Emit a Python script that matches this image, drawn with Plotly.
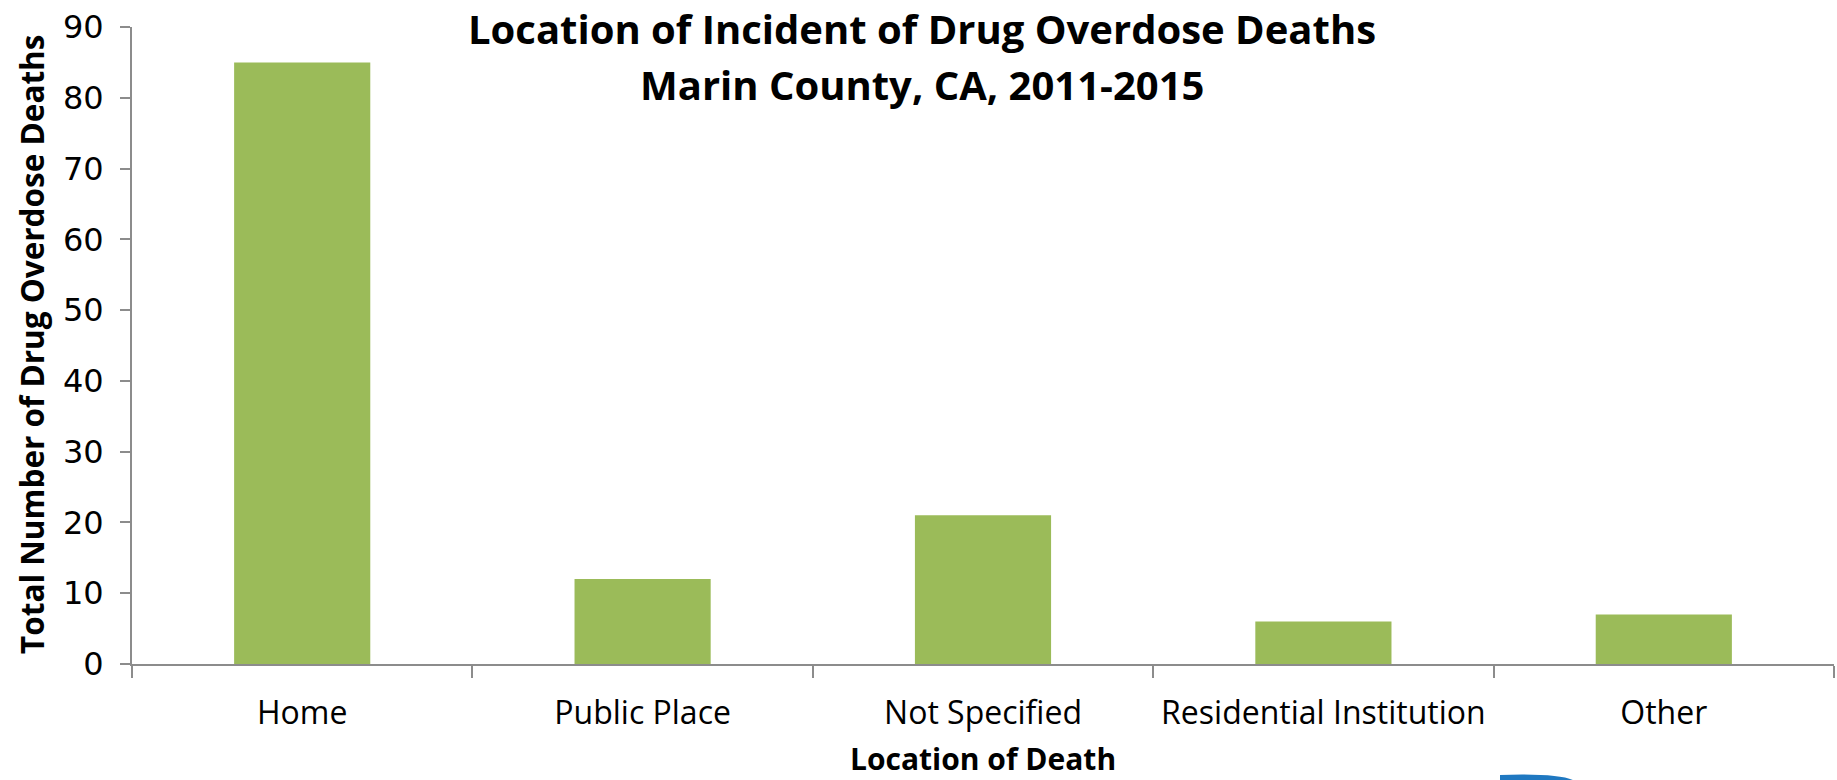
import plotly.graph_objects as go

categories = ["Home", "Public Place", "Not Specified", "Residential Institution", "Other"]
deaths = [85, 12, 21, 6, 7]
y_ticks = [0, 10, 20, 30, 40, 50, 60, 70, 80, 90]

title_lines = ["Location of Incident of Drug Overdose Deaths", "Marin County, CA, 2011-2015"]
x_title = "Location of Death"
y_title = "Total Number of Drug Overdose Deaths"

W, H = 1837, 780
ML, MR, MT, MB = 132, 3, 27, 116
pw = W - ML - MR
ph = H - MT - MB


def px_x(x):
    return (x - ML) / pw


def px_y(y):
    return (H - MB - y) / ph


bold_font = "Open Sans, sans-serif"
text_font = "Open Sans, sans-serif"
num_font = "DejaVu Sans, sans-serif"
axis_color = "#8C8C8C"

fig = go.Figure(
    go.Bar(
        x=categories,
        y=deaths,
        marker=dict(color="#9BBB59", line=dict(width=0)),
        width=0.4,
        hoverinfo="x+y",
    )
)

annotations = [
    dict(
        text="<b>" + title_lines[0] + "</b>",
        x=px_x(922), y=px_y(0), xref="paper", yref="paper",
        showarrow=False, yanchor="top", xanchor="center", borderpad=0,
        font=dict(family=bold_font, size=40, color="black"),
    ),
    dict(
        text="<b>" + title_lines[1] + "</b>",
        x=px_x(922), y=px_y(84), xref="paper", yref="paper",
        showarrow=False, yanchor="middle", xanchor="center",
        font=dict(family=bold_font, size=40, color="black"),
    ),
    dict(
        text="<b>" + x_title + "</b>",
        x=0.5, y=px_y(758), xref="paper", yref="paper",
        showarrow=False, yanchor="middle",
        font=dict(family=bold_font, size=30, color="black"),
    ),
    dict(
        text="<b>" + y_title + "</b>",
        x=px_x(31), y=px_y(345), xref="paper", yref="paper",
        showarrow=False, textangle=-90, xanchor="center", yanchor="middle",
        font=dict(family=bold_font, size=31.5, color="black"),
    ),
]

fig.update_layout(
    width=W,
    height=H,
    margin=dict(l=ML, r=MR, t=MT, b=MB, pad=0),
    paper_bgcolor="white",
    plot_bgcolor="white",
    showlegend=False,
    xaxis=dict(
        type="category",
        showline=True,
        linecolor=axis_color,
        linewidth=2,
        ticks="outside",
        tickson="boundaries",
        ticklen=12,
        tickwidth=1.5,
        tickcolor=axis_color,
        showgrid=False,
        zeroline=False,
        tickfont=dict(family=text_font, size=32, color="black"),
        ticklabelstandoff=20,
    ),
    yaxis=dict(
        range=[0, 90],
        tickvals=y_ticks,
        showline=True,
        linecolor=axis_color,
        linewidth=2,
        ticks="outside",
        ticklen=10,
        tickwidth=1.5,
        tickcolor=axis_color,
        showgrid=False,
        zeroline=False,
        tickfont=dict(family=num_font, size=32, color="black"),
        ticklabelstandoff=10,
    ),
    annotations=annotations,
)

# partial blue logo at bottom right
fig.add_shape(
    type="path",
    xref="paper", yref="paper",
    path=f"M {px_x(1500)} {px_y(781)} L {px_x(1500)} {px_y(775)} "
         f"Q {px_x(1560)} {px_y(773)} {px_x(1575)} {px_y(781)} Z",
    fillcolor="#1F78C1", line=dict(width=0), layer="above",
)

fig.write_html("out.html")
